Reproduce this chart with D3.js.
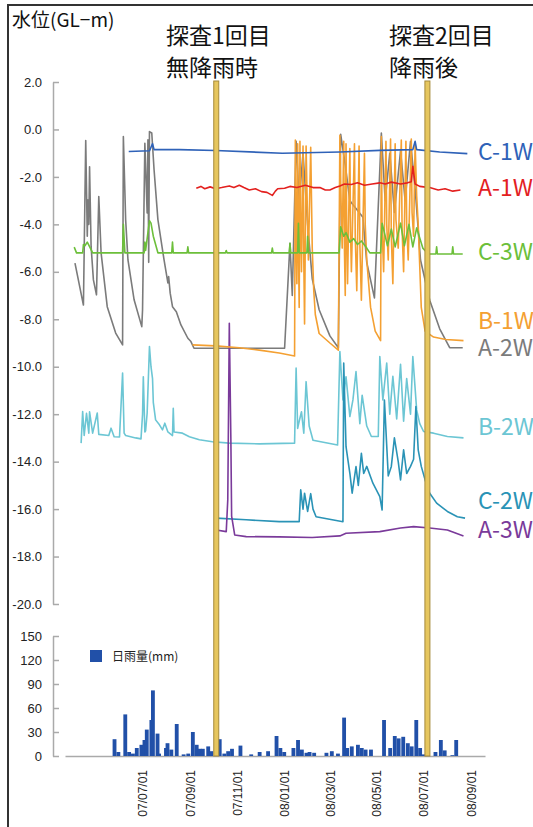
<!DOCTYPE html>
<html>
<head>
<meta charset="utf-8">
<script src="https://cdn.jsdelivr.net/npm/d3@7"></script>
<style>
  body { margin: 0; background: #fff; }
  svg { display: block; }
  .tick text { font-family: "Liberation Sans", Arial, sans-serif; }
</style>
</head>
<body>
<svg id="canvas" width="533" height="827"></svg>
<script>
// ---------------------------------------------------------------- data
var levelTicks = [2, 0, -2, -4, -6, -8, -10, -12, -14, -16, -18, -20];
var rainTicks = [0, 30, 60, 90, 120, 150];
var dateTicks = ["2007-07-01", "2007-09-01", "2007-11-01", "2008-01-01", "2008-03-01", "2008-05-01", "2008-07-01", "2008-09-01"];
var surveyDates = ["2007-10-05", "2008-07-06"];

var c1w = [["2007-06-13",-0.93],["2007-07-10",-0.9],["2007-07-12",-0.75],["2007-07-14",-0.6],["2007-07-16",-0.85],["2007-08-18",-0.85],["2007-10-04",-0.89],["2007-12-30",-1.0],["2008-03-14",-0.95],["2008-05-05",-0.88],["2008-06-17",-0.85],["2008-06-20",-0.5],["2008-06-22",-0.85],["2008-07-22",-0.95],["2008-08-27",-1.02]];

var a1w = [["2007-09-09",-2.48],["2007-09-15",-2.4],["2007-09-20",-2.5],["2007-09-27",-2.42],["2007-10-04",-2.5],["2007-10-12",-2.45],["2007-10-22",-2.38],["2007-10-28",-2.45],["2007-11-04",-2.35],["2007-11-10",-2.45],["2007-11-17",-2.55],["2007-11-25",-2.5],["2007-12-03",-2.62],["2007-12-10",-2.65],["2007-12-17",-2.78],["2007-12-21",-2.6],["2007-12-24",-2.5],["2008-01-02",-2.48],["2008-01-09",-2.4],["2008-01-18",-2.45],["2008-01-29",-2.35],["2008-02-08",-2.45],["2008-02-17",-2.45],["2008-02-24",-2.55],["2008-03-01",-2.55],["2008-03-08",-2.45],["2008-03-14",-2.38],["2008-03-20",-2.3],["2008-03-29",-2.32],["2008-04-06",-2.25],["2008-04-15",-2.35],["2008-04-25",-2.3],["2008-05-05",-2.25],["2008-05-12",-2.3],["2008-05-20",-2.22],["2008-06-01",-2.3],["2008-06-10",-2.25],["2008-06-15",-2.2],["2008-06-17",-1.55],["2008-06-20",-2.3],["2008-06-26",-2.4],["2008-07-09",-2.45],["2008-07-20",-2.55],["2008-07-29",-2.5],["2008-08-08",-2.6],["2008-08-18",-2.55]];

var c3w = [["2007-04-03",-4.96],["2007-04-06",-5.2],["2007-04-14",-5.2],["2007-04-15",-4.85],["2007-04-17",-4.9],["2007-04-20",-4.75],["2007-04-24",-5.0],["2007-04-27",-5.2],["2007-06-05",-5.2],["2007-06-06",-4.0],["2007-06-08",-5.2],["2007-07-03",-5.2],["2007-07-04",-4.75],["2007-07-05",-5.1],["2007-07-07",-4.6],["2007-07-10",-3.85],["2007-07-12",-3.95],["2007-07-15",-4.5],["2007-07-21",-5.2],["2007-08-08",-5.2],["2007-08-09",-4.75],["2007-08-10",-5.2],["2007-08-28",-5.2],["2007-08-29",-4.95],["2007-08-30",-5.2],["2007-10-17",-5.2],["2007-10-18",-5.1],["2007-10-19",-5.2],["2007-12-16",-5.2],["2007-12-17",-5.0],["2007-12-18",-5.2],["2008-01-08",-5.2],["2008-01-09",-4.8],["2008-01-10",-5.2],["2008-01-19",-5.2],["2008-01-20",-3.95],["2008-01-21",-5.2],["2008-01-31",-5.2],["2008-02-01",-4.5],["2008-02-02",-5.2],["2008-03-13",-5.2],["2008-03-15",-4.1],["2008-03-19",-4.5],["2008-03-22",-4.35],["2008-03-27",-4.75],["2008-04-01",-4.6],["2008-04-06",-4.85],["2008-04-11",-4.7],["2008-04-18",-5.0],["2008-04-22",-5.2],["2008-05-06",-5.2],["2008-05-08",-3.95],["2008-05-15",-4.9],["2008-05-20",-4.2],["2008-05-25",-4.95],["2008-06-01",-3.95],["2008-06-06",-4.9],["2008-06-12",-4.0],["2008-06-17",-4.95],["2008-06-22",-4.15],["2008-06-30",-5.0],["2008-07-07",-5.25],["2008-07-17",-5.25],["2008-07-18",-4.95],["2008-07-19",-5.25],["2008-08-07",-5.25],["2008-08-08",-4.95],["2008-08-09",-5.25],["2008-08-21",-5.25]];

var b1w = [["2007-09-04",-9.08],["2007-10-04",-9.12],["2007-11-04",-9.2],["2007-11-30",-9.3],["2007-12-26",-9.42],["2008-01-15",-9.55],["2008-01-16",-0.45],["2008-01-17",-4.5],["2008-01-18",-6.5],["2008-01-19",-0.6],["2008-01-20",-5.0],["2008-01-21",-7.5],["2008-01-22",-0.5],["2008-01-23",-4.2],["2008-01-24",-6.0],["2008-01-26",-0.7],["2008-01-27",-5.5],["2008-01-28",-8.2],["2008-01-30",-0.7],["2008-02-01",-4.0],["2008-02-02",-5.5],["2008-02-05",-0.75],["2008-02-07",-5.0],["2008-02-09",-6.8],["2008-02-11",-7.8],["2008-02-16",-8.6],["2008-03-01",-9.0],["2008-03-12",-9.3],["2008-03-14",-0.25],["2008-03-16",-3.8],["2008-03-17",-5.0],["2008-03-19",-0.5],["2008-03-20",-5.2],["2008-03-21",-7.0],["2008-03-22",-0.6],["2008-03-23",-4.5],["2008-03-24",-6.5],["2008-03-27",-0.8],["2008-03-28",-4.5],["2008-03-29",-6.0],["2008-04-02",-0.6],["2008-04-03",-4.5],["2008-04-05",-6.8],["2008-04-08",-0.7],["2008-04-09",-4.8],["2008-04-11",-7.2],["2008-04-15",-1.0],["2008-04-16",-4.0],["2008-04-18",-5.5],["2008-04-23",-7.5],["2008-04-29",-8.5],["2008-05-06",-8.9],["2008-05-07",-0.3],["2008-05-08",-4.2],["2008-05-10",-6.0],["2008-05-13",-0.5],["2008-05-14",-4.0],["2008-05-16",-5.5],["2008-05-19",-0.4],["2008-05-20",-4.5],["2008-05-22",-6.5],["2008-05-25",-0.6],["2008-05-26",-3.8],["2008-05-29",-5.0],["2008-06-02",-0.45],["2008-06-03",-4.2],["2008-06-05",-6.0],["2008-06-08",-0.5],["2008-06-09",-4.0],["2008-06-11",-5.5],["2008-06-15",-0.4],["2008-06-16",-3.5],["2008-06-18",-4.5],["2008-06-20",-0.6],["2008-06-22",-2.8],["2008-06-24",-4.0],["2008-06-28",-7.5],["2008-07-03",-8.5],["2008-07-14",-8.75],["2008-07-30",-8.85],["2008-08-22",-8.9]];

var a2w = [["2007-04-04",-5.63],["2007-04-15",-7.4],["2007-04-18",-0.47],["2007-04-20",-4.5],["2007-04-21",-2.97],["2007-04-22",-4.0],["2007-04-23",-1.57],["2007-04-25",-4.94],["2007-04-28",-6.34],["2007-05-02",-6.97],["2007-05-05",-2.83],["2007-05-08",-5.2],["2007-05-16",-7.47],["2007-05-27",-8.58],["2007-06-05",-9.08],["2007-06-06",-0.3],["2007-06-09",-3.81],["2007-06-12",-5.5],["2007-06-20",-7.18],["2007-06-30",-8.31],["2007-07-01",-7.6],["2007-07-04",-0.58],["2007-07-07",-3.52],["2007-07-08",-0.44],["2007-07-09",-5.6],["2007-07-10",-0.09],["2007-07-13",-0.15],["2007-07-16",-1.7],["2007-07-21",-3.8],["2007-07-29",-5.5],["2007-08-03",-6.47],["2007-08-04",-6.2],["2007-08-06",-6.9],["2007-08-09",-7.47],["2007-08-14",-7.68],["2007-08-20",-8.24],["2007-08-29",-8.8],["2007-09-02",-8.94],["2007-09-06",-9.22],["2008-01-02",-9.22],["2008-01-09",-4.8],["2008-01-12",-7.0],["2008-01-17",-0.5],["2008-01-21",-3.0],["2008-01-26",-1.0],["2008-02-01",-4.0],["2008-02-07",-6.3],["2008-02-16",-7.6],["2008-03-01",-8.7],["2008-03-12",-9.2],["2008-03-15",-0.2],["2008-03-21",-1.5],["2008-03-27",-3.0],["2008-04-13",-3.7],["2008-04-18",-5.6],["2008-04-28",-7.1],["2008-05-07",-0.15],["2008-05-12",-3.0],["2008-05-18",-1.0],["2008-05-24",-3.5],["2008-06-01",-0.9],["2008-06-07",-3.0],["2008-06-14",-0.5],["2008-06-20",-2.5],["2008-06-27",-5.5],["2008-07-09",-7.2],["2008-07-22",-8.4],["2008-08-04",-9.2],["2008-08-21",-9.2]];

var b2w = [["2007-04-12",-13.22],["2007-04-14",-11.89],["2007-04-16",-12.9],["2007-04-19",-11.96],["2007-04-22",-12.8],["2007-04-23",-11.9],["2007-04-27",-12.8],["2007-05-03",-11.95],["2007-05-05",-12.85],["2007-05-18",-12.9],["2007-05-21",-12.59],["2007-05-25",-12.95],["2007-06-01",-12.96],["2007-06-05",-10.27],["2007-06-07",-12.8],["2007-06-09",-12.9],["2007-06-22",-13.0],["2007-06-29",-13.04],["2007-07-01",-12.0],["2007-07-02",-10.42],["2007-07-04",-12.75],["2007-07-05",-12.7],["2007-07-07",-11.95],["2007-07-10",-9.15],["2007-07-12",-10.0],["2007-07-14",-10.5],["2007-07-15",-11.5],["2007-07-18",-12.24],["2007-07-23",-12.45],["2007-07-27",-12.66],["2007-07-30",-12.38],["2007-08-03",-12.75],["2007-08-09",-12.9],["2007-08-10",-11.75],["2007-08-11",-12.75],["2007-08-22",-12.8],["2007-08-31",-12.95],["2007-09-13",-13.08],["2007-09-30",-13.16],["2007-10-22",-13.22],["2007-11-30",-13.25],["2008-01-15",-13.22],["2008-01-17",-10.06],["2008-01-19",-12.6],["2008-01-21",-12.3],["2008-01-24",-11.9],["2008-01-27",-12.8],["2008-01-30",-10.63],["2008-02-03",-12.5],["2008-02-08",-13.1],["2008-03-11",-13.3],["2008-03-14",-9.36],["2008-03-18",-11.4],["2008-03-22",-10.42],["2008-03-27",-12.1],["2008-03-31",-11.4],["2008-04-04",-10.2],["2008-04-09",-12.4],["2008-04-12",-11.2],["2008-04-18",-12.5],["2008-04-24",-12.94],["2008-05-03",-12.94],["2008-05-05",-9.57],["2008-05-09",-11.4],["2008-05-14",-9.85],["2008-05-18",-12.0],["2008-05-22",-10.4],["2008-05-27",-12.2],["2008-06-01",-9.9],["2008-06-05",-12.3],["2008-06-09",-10.5],["2008-06-14",-12.0],["2008-06-17",-9.57],["2008-06-22",-11.82],["2008-06-26",-12.4],["2008-07-01",-12.73],["2008-07-14",-12.8],["2008-08-01",-12.94],["2008-08-22",-13.0]];

var c2w = [["2007-10-05",-16.38],["2007-11-13",-16.45],["2007-12-26",-16.53],["2008-01-21",-16.53],["2008-01-23",-15.19],["2008-01-26",-16.0],["2008-01-28",-15.33],["2008-02-01",-16.1],["2008-02-05",-15.35],["2008-02-08",-16.0],["2008-02-12",-16.32],["2008-03-18",-16.53],["2008-03-19",-9.85],["2008-03-22",-13.37],["2008-03-27",-14.49],["2008-03-30",-15.33],["2008-04-04",-14.21],["2008-04-07",-15.0],["2008-04-11",-13.65],["2008-04-14",-14.5],["2008-04-18",-14.2],["2008-04-26",-14.91],["2008-05-05",-15.47],["2008-05-08",-16.04],["2008-05-11",-11.4],["2008-05-16",-14.6],["2008-05-20",-14.2],["2008-05-24",-13.0],["2008-05-29",-14.0],["2008-06-01",-14.77],["2008-06-05",-13.5],["2008-06-09",-14.5],["2008-06-14",-14.2],["2008-06-18",-13.9],["2008-06-21",-11.68],["2008-06-24",-13.5],["2008-06-28",-14.2],["2008-07-03",-14.77],["2008-07-09",-15.33],["2008-07-18",-15.75],["2008-08-01",-16.1],["2008-08-14",-16.32],["2008-08-24",-16.38]];

var a3w = [["2007-10-05",-16.88],["2007-10-18",-16.95],["2007-10-20",-15.6],["2007-10-22",-8.17],["2007-10-24",-13.0],["2007-10-25",-16.3],["2007-10-29",-17.09],["2007-11-13",-17.16],["2007-12-26",-17.17],["2008-02-07",-17.2],["2008-03-14",-17.13],["2008-03-22",-17.02],["2008-05-05",-16.95],["2008-06-01",-16.8],["2008-06-18",-16.74],["2008-07-09",-16.8],["2008-08-01",-16.88],["2008-08-22",-17.13]];

var rainDates = ["2007-05-23","2007-05-28","2007-06-06","2007-06-11","2007-06-16","2007-06-21","2007-06-27","2007-07-01","2007-07-04","2007-07-10","2007-07-12","2007-07-18","2007-07-20","2007-07-29","2007-07-31","2007-08-05","2007-08-12","2007-08-21","2007-08-27","2007-09-02","2007-09-07","2007-09-11","2007-09-15","2007-09-22","2007-09-26","2007-10-07","2007-10-13","2007-10-18","2007-10-23","2007-11-03","2007-11-17","2007-11-28","2007-12-09","2007-12-20","2007-12-25","2007-12-30","2008-01-11","2008-01-17","2008-01-22","2008-01-28","2008-02-01","2008-02-07","2008-02-23","2008-03-01","2008-03-09","2008-03-17","2008-03-21","2008-03-27","2008-04-04","2008-04-09","2008-04-14","2008-04-21","2008-05-08","2008-05-16","2008-05-22","2008-05-27","2008-06-02","2008-06-08","2008-06-13","2008-06-19","2008-06-24","2008-06-28","2008-07-03","2008-07-14","2008-07-21","2008-07-26","2008-08-05","2008-08-10"];
var rainMm = [21,5,52,5,3,10,14,20,33,45,82,28,3,10,16,8,40,2,3,30,14,9,9,12,6,21,3,6,9,13,2,5,6,25,10,5,10,20,8,4,5,4,4,6,3,48,10,12,14,10,8,8,45,10,25,22,24,16,12,45,10,2,12,5,20,7,1,20];

var series = [
  { name: "A-2W", data: a2w, color: "#7b7b7b", labelY: 348 },
  { name: "B-2W", data: b2w, color: "#6cc6d4", labelY: 427 },
  { name: "C-2W", data: c2w, color: "#2a93b6", labelY: 501 },
  { name: "A-3W", data: a3w, color: "#7a3a9a", labelY: 530 },
  { name: "B-1W", data: b1w, color: "#f4a032", labelY: 321 },
  { name: "C-3W", data: c3w, color: "#6cbf3a", labelY: 252 },
  { name: "A-1W", data: a1w, color: "#e3211f", labelY: 188 },
  { name: "C-1W", data: c1w, color: "#2f62b8", labelY: 152 }
];

// ---------------------------------------------------------------- scales
var parse = d3.timeParse("%Y-%m-%d");
var svg = d3.select("#canvas");
var jp = "'Noto Sans CJK JP', sans-serif";

var x = d3.scaleTime().domain([parse("2007-03-22"), parse("2008-09-19")]).range([65, 485]);
var y = d3.scaleLinear().domain([2, -20]).range([82, 604]);
var yRain = d3.scaleLinear().domain([0, 150]).range([756, 636]);

// frame
svg.append("path").attr("d", "M8,827 V5 H533").attr("fill", "none").attr("stroke", "#333").attr("stroke-width", 2);

// ---------------------------------------------------------------- axes
var yAxis = svg.append("g").attr("transform", "translate(53,0)")
  .call(d3.axisLeft(y).tickValues(levelTicks).tickSizeInner(-6).tickSizeOuter(0).tickPadding(11).tickFormat(d3.format(".1f")));
var rAxis = svg.append("g").attr("transform", "translate(53,0)")
  .call(d3.axisLeft(yRain).tickValues(rainTicks).tickSizeInner(-6).tickSizeOuter(0).tickPadding(11));
[yAxis, rAxis].forEach(function(g){
  g.select(".domain").attr("stroke", "#aaa").attr("stroke-width", 1.5);
  g.selectAll(".tick line").attr("stroke", "#aaa").attr("stroke-width", 1.5);
  g.selectAll(".tick text").attr("fill", "#222").style("font-size", "13px");
});
yAxis.selectAll(".tick text").text(function(d){ return d3.format(".1f")(d).replace("−", "-"); });

var xAxis = svg.append("g").attr("transform", "translate(0,756)")
  .call(d3.axisBottom(x).tickValues(dateTicks.map(parse)).tickSize(0).tickFormat(d3.timeFormat("%y/%m/%d")));
xAxis.select(".domain").attr("stroke", "#aaa").attr("stroke-width", 1.5);
xAxis.selectAll(".tick text")
  .attr("transform", "rotate(-90)").attr("text-anchor", "end")
  .attr("x", -14).attr("y", 0).attr("dy", "0.35em")
  .attr("fill", "#222").style("font-size", "12px");

// ---------------------------------------------------------------- rainfall bars
var barDays = 5;
svg.append("g").selectAll("rect").data(rainDates).join("rect")
  .attr("x", function(d){ return x(parse(d)); })
  .attr("width", function(d){ return x(d3.timeDay.offset(parse(d), barDays)) - x(parse(d)); })
  .attr("y", function(d, i){ return yRain(rainMm[i]); })
  .attr("height", function(d, i){ return yRain(0) - yRain(rainMm[i]); })
  .attr("fill", "#2150a8");

svg.append("rect").attr("x", 90).attr("y", 650).attr("width", 12).attr("height", 12).attr("fill", "#2150a8");
svg.append("text").attr("x", 112).attr("y", 661).text("日雨量(mm)")
  .style("font-family", jp).style("font-size", "12px").attr("fill", "#222");

// ---------------------------------------------------------------- level lines
var lineGen = d3.line().x(function(d){ return x(parse(d[0])); }).y(function(d){ return y(d[1]); });
svg.append("g").selectAll("path").data(series).join("path")
  .attr("d", function(s){ return lineGen(s.data); })
  .attr("fill", "none").attr("stroke", function(s){ return s.color; })
  .attr("stroke-width", 1.6).attr("stroke-linejoin", "round");

svg.append("g").selectAll("text").data(series).join("text")
  .attr("x", 478).attr("y", function(s){ return s.labelY; }).attr("dy", "0.36em")
  .attr("fill", function(s){ return s.color; })
  .style("font-family", jp).style("font-size", "23px")
  .text(function(s){ return s.name; });

// ---------------------------------------------------------------- survey markers
svg.append("g").selectAll("rect").data(surveyDates).join("rect")
  .attr("x", function(d){ return x(parse(d)) - 2.5; }).attr("width", 5)
  .attr("y", 81).attr("height", 756 - 81)
  .attr("fill", "#e6c65e").attr("stroke", "#a68a3a").attr("stroke-width", 1);

svg.append("text").attr("x", 12).attr("y", 27).text("水位(GL−m)").style("font-family", jp).style("font-size", "19px").attr("fill", "#111");
[["探査1回目", 166, 44], ["無降雨時", 166, 76], ["探査2回目", 389, 44], ["降雨後", 389, 76]].forEach(function(t){
  svg.append("text").attr("x", t[1]).attr("y", t[2]).text(t[0]).style("font-family", jp).style("font-size", "23px").attr("fill", "#111");
});
</script>
</body>
</html>
